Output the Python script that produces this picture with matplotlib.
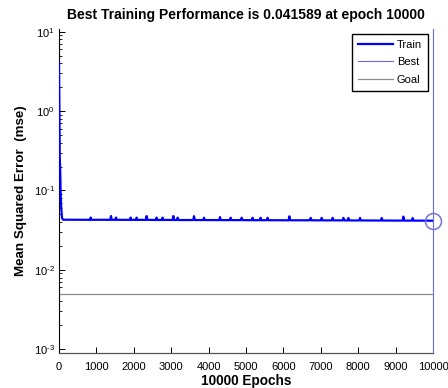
import matplotlib
matplotlib.use("Agg")
import matplotlib.pyplot as plt
from matplotlib.ticker import LogLocator, NullFormatter, FixedLocator, FixedFormatter

plt.rcParams['font.family'] = ['Liberation Sans', 'DejaVu Sans']
plt.rcParams['mathtext.fontset'] = 'custom'
plt.rcParams['mathtext.rm'] = 'Liberation Sans'
plt.rcParams['mathtext.it'] = 'Liberation Sans:italic'
plt.rcParams['mathtext.bf'] = 'Liberation Sans:bold'

# ---- data ----
train_epochs = [0, 8, 20, 30, 45, 60, 80, 110,
                827, 847, 867,
                1370, 1390, 1410,
                1504, 1524, 1544,
                1896, 1916, 1936,
                2056, 2076, 2096,
                2323, 2343, 2363,
                2590, 2610, 2630,
                2750, 2770, 2790,
                3037, 3057, 3077,
                3153, 3173, 3193,
                3590, 3610, 3630,
                3857, 3877, 3897,
                4285, 4305, 4325,
                4570, 4590, 4610,
                4864, 4884, 4904,
                5158, 5178, 5198,
                5372, 5392, 5412,
                5559, 5579, 5599,
                6139, 6159, 6179,
                6710, 6730, 6750,
                7004, 7024, 7044,
                7298, 7318, 7338,
                7584, 7604, 7624,
                7717, 7737, 7757,
                8029, 8049, 8069,
                8609, 8629, 8649,
                9189, 9209, 9229,
                9438, 9458, 9478,
                10000]
train_mse = [4.1, 1.6, 0.26, 0.2, 0.09, 0.06, 0.045, 0.0428,
             0.0427, 0.0456, 0.0427,
             0.0427, 0.0476, 0.0427,
             0.0427, 0.0456, 0.0427,
             0.0426, 0.0456, 0.0426,
             0.0426, 0.0455, 0.0426,
             0.0426, 0.0476, 0.0426,
             0.0425, 0.0455, 0.0425,
             0.0425, 0.0455, 0.0425,
             0.0425, 0.0476, 0.0425,
             0.0424, 0.0455, 0.0424,
             0.0424, 0.0474, 0.0424,
             0.0424, 0.0454, 0.0424,
             0.0423, 0.0462, 0.0423,
             0.0423, 0.0454, 0.0423,
             0.0423, 0.0454, 0.0423,
             0.0422, 0.0453, 0.0422,
             0.0422, 0.0453, 0.0422,
             0.0422, 0.0453, 0.0422,
             0.0421, 0.0472, 0.0421,
             0.0421, 0.0452, 0.0421,
             0.0420, 0.0452, 0.0420,
             0.0420, 0.0452, 0.0420,
             0.0420, 0.0452, 0.0420,
             0.0419, 0.0451, 0.0419,
             0.0419, 0.0451, 0.0419,
             0.0418, 0.0450, 0.0418,
             0.0417, 0.0468, 0.0417,
             0.0417, 0.0449, 0.0417,
             0.041589]
best_epoch = 10000
best_perf = 0.041589
goal = 0.005
x_ticks = [0, 1000, 2000, 3000, 4000, 5000, 6000, 7000, 8000, 9000, 10000]
y_ticks = [1e-3, 1e-2, 1e-1, 1e0, 1e1]
y_tick_labels = ['$10^{\u20103}$', '$10^{\u20102}$', '$10^{\u20101}$',
                 '$10^{0}$', '$10^{1}$']

title = "Best Training Performance is 0.041589 at epoch 10000"

# ---- figure ----
fig = plt.figure(figsize=(4.48, 3.88), dpi=100)
ax = fig.add_axes([59/448, 1 - 352.8/388, (433 - 59)/448, (352.8 - 29.3)/388])

ax.set_yscale('log')
ax.plot(train_epochs, train_mse, color=(0, 0, 1), lw=1.6, label='Train', zorder=3)
ax.axvline(best_epoch, color=(0.42, 0.42, 0.92), lw=0.8, label='Best', clip_on=False, zorder=2)
ax.axhline(goal, color=(0.55, 0.55, 0.55), lw=0.9, label='Goal', zorder=2)
ax.plot([best_epoch], [best_perf], 'o', ms=11.5, mfc='none', mec=(0.45, 0.45, 0.85),
        mew=1.1, clip_on=False, zorder=4)

ax.set_xlim(0, 10000)
ax.set_ylim(10 ** -3.045, 10 ** 1.03)
ax.set_xticks(x_ticks)
ax.set_xticklabels([str(t) for t in x_ticks])
ax.yaxis.set_major_locator(FixedLocator(y_ticks))
ax.yaxis.set_major_formatter(FixedFormatter(y_tick_labels))
ax.yaxis.set_minor_locator(LogLocator(base=10, subs=range(2, 10), numticks=20))
ax.yaxis.set_minor_formatter(NullFormatter())

for s in ['top', 'right']:
    ax.spines[s].set_visible(False)
ax.spines['left'].set_linewidth(0.8)
ax.spines['bottom'].set_linewidth(0.9)
ax.spines['bottom'].set_color('#555555')

ax.tick_params(axis='both', which='major', direction='in', length=4, width=0.7,
               labelsize=8, pad=3)
ax.tick_params(axis='x', which='major', pad=6.3)
ax.tick_params(axis='y', which='minor', direction='in', length=2.2, width=0.6)

ax.set_title(title, fontsize=10, fontweight='bold', pad=7.5)
ax.set_xlabel('10000 Epochs', fontsize=9.8, fontweight='bold', labelpad=1.5)
ax.set_ylabel('Mean Squared Error  (mse)', fontsize=9.6, fontweight='bold', labelpad=5)

leg = ax.legend(loc='upper right', bbox_to_anchor=(428/448, 1 - 34/388),
                bbox_transform=fig.transFigure, fontsize=8, frameon=True,
                fancybox=False, framealpha=1, edgecolor='black',
                handlelength=3.15, handletextpad=0.36, labelspacing=0.65,
                borderpad=0.55, borderaxespad=0)
leg.get_frame().set_linewidth(1.0)

fig.savefig('out.png', dpi=100)
